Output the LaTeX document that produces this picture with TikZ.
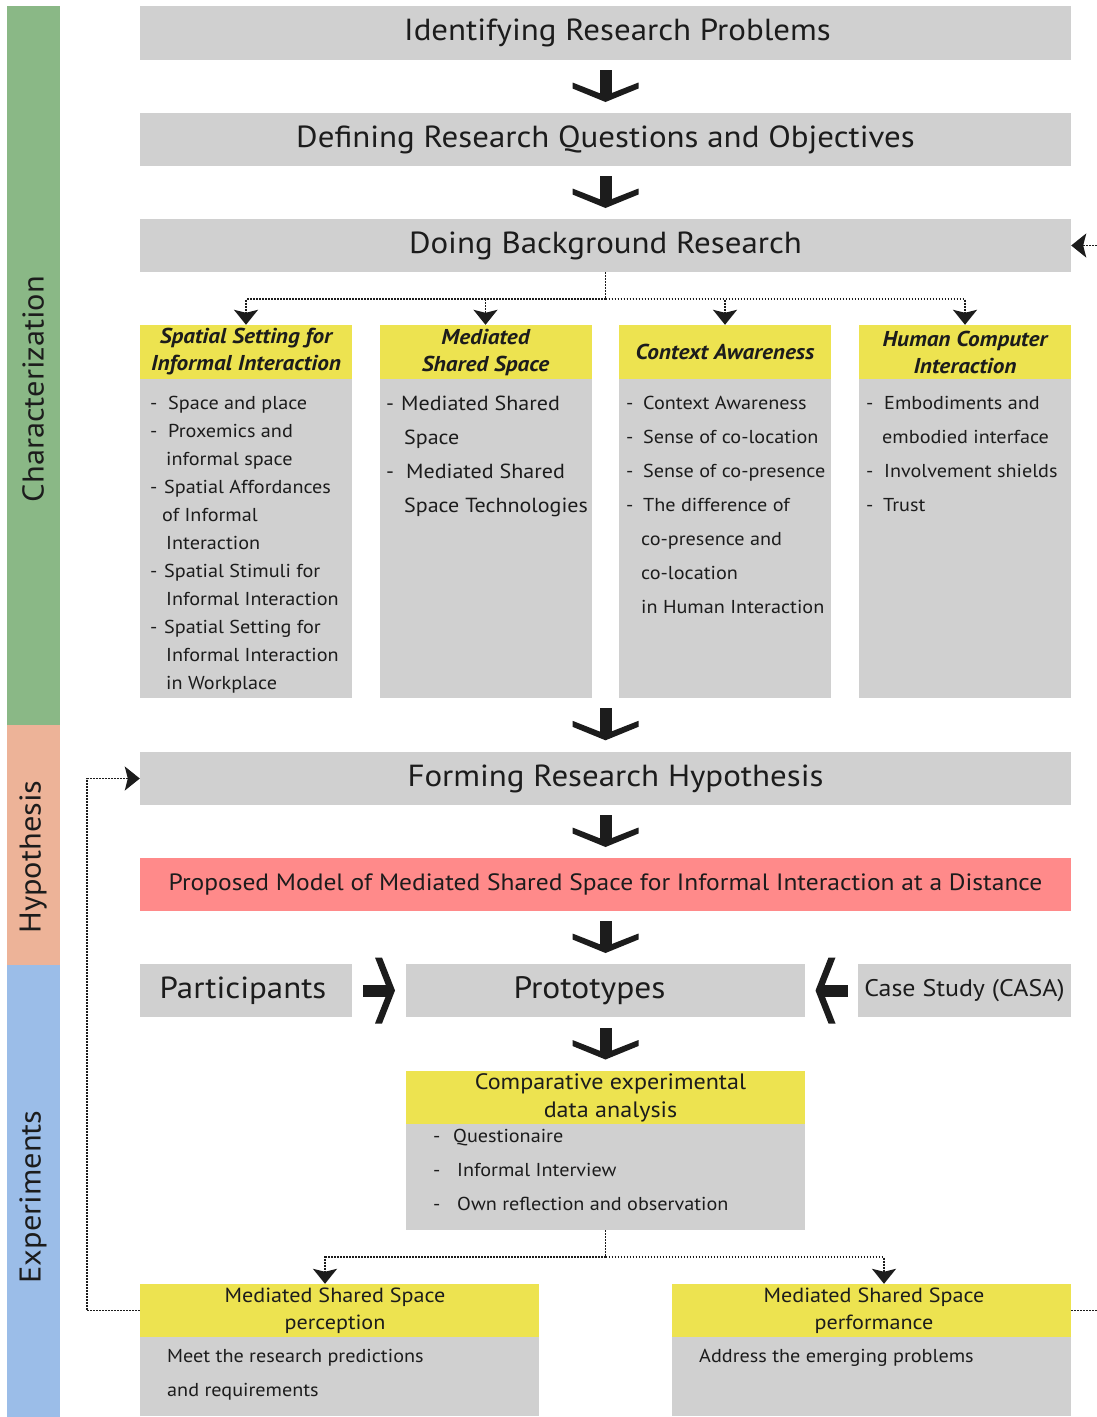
\documentclass[tikz,border=0pt]{standalone}
\usepackage{fontspec}
\setmainfont[FakeStretch=1.08]{PT Sans}
\usetikzlibrary{arrows.meta,calc}

\definecolor{boxgray}{HTML}{D0D0D0}
\definecolor{headyellow}{HTML}{EDE350}
\definecolor{modelpink}{HTML}{FF8A8A}
\definecolor{phasegreen}{HTML}{8AB886}
\definecolor{phasesalmon}{HTML}{EDB398}
\definecolor{phaseblue}{HTML}{9BBDE8}
\definecolor{inkblack}{HTML}{1C1C1C}

% list lines: a dash with its text, or an indented continuation
\newcommand\dashitem[2]{\makebox[#1pt][l]{-}#2}
\newcommand\contitem[2]{\hspace*{#1pt}#2}

\tikzset{
  plainbox/.style={fill=boxgray, draw=none, inner sep=0pt, text=inkblack},
  yellowbox/.style={fill=headyellow, draw=none, inner sep=0pt, text=inkblack, align=center},
  titlefont/.style={font=\fontsize{30.5}{36}\selectfont},
  headfont/.style={font=\fontsize{21.5}{27}\selectfont\bfseries\itshape},
  listtext/.style={anchor=north west, inner sep=0pt, align=left, text=inkblack},
  phaselabel/.style={rotate=90, font=\fontsize{30}{36}\selectfont, text=inkblack},
  dotline/.style={draw=inkblack, line width=1.8pt, dash pattern=on 1.8pt off 1.2pt},
  dotarrow/.style={dotline, -{Stealth[length=15pt,width=24pt,inset=3pt]}},
  bigdown/.pic={
    \fill[inkblack] (-6,-16.5) rectangle (6,10);
    \fill[inkblack] (-33,-4) -- (0,9) -- (33,-4) -- (33,2) -- (0,15.5) -- (-33,2) -- cycle;
  },
  bigright/.pic={
    \fill[inkblack] (-16,-6) rectangle (10,6);
    \fill[inkblack] (-4,-33) -- (3,-33) -- (16,0) -- (3,33) -- (-4,33) -- (9,0) -- cycle;
  }
}

\begin{document}
\begin{tikzpicture}[x=1pt,y=-1pt]
\useasboundingbox (0,0) rectangle (1096,1417);

% phase bars on the left
\fill[phasegreen]  (7,6)   rectangle (60,725);
\fill[phasesalmon] (7,725) rectangle (60,965);
\fill[phaseblue]   (7,965) rectangle (60,1417);
\node[phaselabel] (lblchar) at (33,389)  {Characterization};
\node[phaselabel] (lblhyp)  at (33,857)  {Hypothesis};
\node[phaselabel] (lblexp)  at (33,1197) {Experiments};

% main steps
\node[plainbox, titlefont, minimum width=931pt, minimum height=54pt] (prob) at (605.5,33) {\hspace*{24pt}Identifying Research Problems};
\node[plainbox, titlefont, minimum width=931pt, minimum height=53pt] (def) at (605.5,139.5) {Defining Research Questions and Objectives};
\node[plainbox, titlefont, minimum width=931pt, minimum height=53pt] (bg) at (605.5,245.5) {Doing Background Research};

% background research topics
\node[yellowbox, headfont, minimum width=212pt, minimum height=54pt] (h1) at (246,352) {Spatial Setting for\\Informal Interaction};
\node[yellowbox, headfont, minimum width=212pt, minimum height=54pt] (h2) at (485.5,352) {Mediated\\Shared Space};
\node[yellowbox, headfont, minimum width=212pt, minimum height=54pt] (h3) at (725,352) {Context Awareness};
\node[yellowbox, headfont, minimum width=212pt, minimum height=54pt] (h4) at (965,352) {Human Computer\\Interaction};

\node[plainbox, minimum width=212pt, minimum height=319pt] (b1) at (246,538.5) {};
\node[plainbox, minimum width=212pt, minimum height=319pt] (b2) at (485.5,538.5) {};
\node[plainbox, minimum width=212pt, minimum height=319pt] (b3) at (725,538.5) {};
\node[plainbox, minimum width=212pt, minimum height=319pt] (b4) at (965,538.5) {};

\node[listtext, font=\fontsize{18.7}{28}\selectfont] (t1) at (150,389.4) {%
  \strut\dashitem{18}{Space and place}\\
  \dashitem{18}{Proxemics and}\\
  \contitem{16}{informal space}\\
  \dashitem{14}{Spatial Affordances}\\
  \contitem{12}{of Informal}\\
  \contitem{16}{Interaction}\\
  \dashitem{14}{Spatial Stimuli for}\\
  \contitem{16}{Informal Interaction}\\
  \dashitem{14}{Spatial Setting for}\\
  \contitem{16}{Informal Interaction}\\
  \contitem{16}{in Workplace}};
\node[listtext, font=\fontsize{20.4}{34}\selectfont] (t2) at (386,386) {%
  \strut\dashitem{15}{Mediated Shared}\\
  \contitem{18}{Space}\\
  \dashitem{20}{Mediated Shared}\\
  \contitem{18}{Space Technologies}};
\node[listtext, font=\fontsize{18.7}{34}\selectfont] (t3) at (626,385) {%
  \strut\dashitem{17}{Context Awareness}\\
  \dashitem{17}{Sense of co-location}\\
  \dashitem{17}{Sense of co-presence}\\
  \dashitem{17}{The difference of}\\
  \contitem{15}{co-presence and}\\
  \contitem{15}{co-location}\\
  \contitem{15}{in Human Interaction}};
\node[listtext, font=\fontsize{18.7}{34}\selectfont] (t4) at (866,385) {%
  \strut\dashitem{18}{Embodiments and}\\
  \contitem{16}{embodied interface}\\
  \dashitem{18}{Involvement shields}\\
  \dashitem{17}{Trust}};

% hypothesis
\node[plainbox, titlefont, minimum width=931pt, minimum height=53pt] (form) at (605.5,778.5) {\hspace*{20pt}Forming Research Hypothesis};
\node[fill=modelpink, inner sep=0pt, text=inkblack, font=\fontsize{23.6}{28}\selectfont, minimum width=931pt, minimum height=53pt] (model) at (605.5,884.5) {Proposed Model of Mediated Shared Space for Informal Interaction at a Distance};

% experiments
\node[plainbox, titlefont, minimum width=212pt, minimum height=53pt] (part) at (246,990.5) {\hspace*{-6pt}Participants};
\node[plainbox, font=\fontsize{31}{36}\selectfont, minimum width=399pt, minimum height=53pt] (proto) at (605.5,990.5) {\hspace*{-32pt}Prototypes};
\node[plainbox, font=\fontsize{24}{29}\selectfont, minimum width=213pt, minimum height=53pt] (casa) at (964.5,990.5) {Case Study (CASA)};

\node[yellowbox, font=\fontsize{22.3}{28}\selectfont, minimum width=399pt, minimum height=53pt] (comph) at (605.5,1097.5) {\hspace*{10pt}Comparative experimental\\\hspace*{10pt}data analysis};
\node[plainbox, minimum width=399pt, minimum height=106pt] (compb) at (605.5,1177) {};
\node[listtext, font=\fontsize{18.7}{34}\selectfont] (tc) at (433,1118) {%
  \strut\dashitem{20}{Questionaire}\\
  \dashitem{24}{Informal Interview}\\
  \dashitem{24}{Own reflection and observation}};

\node[yellowbox, font=\fontsize{20.5}{27}\selectfont, minimum width=399pt, minimum height=53pt] (perch) at (339.5,1310.5) {\hspace*{-9pt}Mediated Shared Space\\\hspace*{-9pt}perception};
\node[plainbox, minimum width=399pt, minimum height=79pt] (percb) at (339.5,1376.5) {};
\node[listtext, font=\fontsize{18.7}{34}\selectfont] (tp) at (167,1338) {%
  \strut Meet the research predictions\\and requirements};

\node[yellowbox, font=\fontsize{20.5}{27}\selectfont, minimum width=399pt, minimum height=53pt] (perfh) at (871.5,1310.5) {\hspace*{5pt}Mediated Shared Space\\\hspace*{5pt}performance};
\node[plainbox, minimum width=399pt, minimum height=79pt] (perfb) at (871.5,1376.5) {};
\node[listtext, font=\fontsize{18.7}{34}\selectfont] (tf) at (699,1338) {%
  \strut Address the emerging problems};

% thick step arrows
\pic at ($(prob.south)!0.5!(def.north)$) {bigdown};
\pic at ($(def.south)!0.5!(bg.north)$) {bigdown};
\pic at ($(form.north)+(0,-27)$) {bigdown};
\pic at ($(form.south)!0.5!(model.north)$) {bigdown};
\pic at ($(model.south)!0.5!(proto.north)$) {bigdown};
\pic at ($(proto.south)!0.5!(comph.north)$) {bigdown};
\pic at ($(part.east)!0.5!(proto.west)$) {bigright};
\pic[xscale=-1] at ($(casa.west)!0.5!(proto.east)$) {bigright};

% dotted branching from background research
\draw[dotline] (bg.south) -- ++(0,27) coordinate (j1);
\draw[dotarrow] (j1) -| (h1.north);
\draw[dotarrow] (j1) -| (h2.north);
\draw[dotarrow] (j1) -| (h3.north);
\draw[dotarrow] (j1) -| (h4.north);

% dotted branching from the data analysis
\draw[dotline] (compb.south) -- ++(0,27) coordinate (j2);
\draw[dotarrow] (j2) -| ([xshift=-14.5pt]perch.north);
\draw[dotarrow] (j2) -| ([xshift=12.5pt]perfh.north);

% feedback loops
\draw[dotarrow] (perch.west) -- ++(-53,0) |- (form.west);
\draw[dotarrow] (perfh.east) -- ++(40,0) |- (bg.east);
\end{tikzpicture}
\end{document}
